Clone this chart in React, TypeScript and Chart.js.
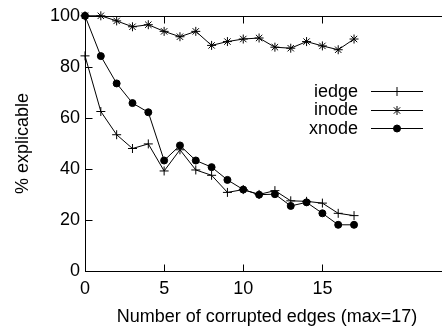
import React, { useEffect, useRef } from 'react';
import { Chart, registerables } from 'chart.js';
import { drawPoint } from 'chart.js/helpers';

Chart.register(...registerables);

const xValues = [0, 1, 2, 3, 4, 5, 6, 7, 8, 9, 10, 11, 12, 13, 14, 15, 16, 17];
const iedge = [84.3, 62.5, 53.4, 48.0, 49.8, 39.2, 47.5, 39.6, 37.5, 30.8, 31.9, 30.0, 31.5, 27.5, 27.3, 26.6, 22.6, 21.7];
const inode = [100, 100, 98.0, 95.7, 96.5, 93.9, 91.8, 93.9, 88.4, 89.9, 90.9, 91.3, 87.7, 87.3, 89.9, 88.2, 86.7, 90.9];
const xnode = [100, 84.2, 73.5, 65.8, 62.2, 43.3, 49.2, 43.3, 40.7, 35.7, 31.9, 29.9, 30.1, 25.5, 26.9, 22.6, 18.1, 18.1];
const seriesNames = ['iedge', 'inode', 'xnode'];
const xTicks = [0, 5, 10, 15];
const yTicks = [0, 20, 40, 60, 80, 100];
const xTitle = 'Number of corrupted edges (max=17)';
const yTitle = '% explicable';

const FONT = '"Liberation Sans", Arial, Helvetica, sans-serif';

const framePlugin = {
  id: 'gnuFrame',
  beforeDatasetsDraw(chart: any) {
    const { ctx, chartArea: a, scales } = chart;
    const x = scales.x, y = scales.y;
    ctx.save();
    ctx.strokeStyle = '#000';
    ctx.lineWidth = 1;
    const L = Math.round(a.left) + 0.5;
    const R = Math.round(a.right) + 0.5;
    const T = Math.round(a.top) + 0.5;
    const B = Math.round(a.bottom) + 0.5;
    ctx.strokeRect(L, T, R - L, B - T);
    ctx.beginPath();
    for (const v of xTicks) {
      const px = Math.round(x.getPixelForValue(v)) + 0.5;
      ctx.moveTo(px, B); ctx.lineTo(px, B - 7);
      ctx.moveTo(px, T); ctx.lineTo(px, T + 7);
    }
    for (const v of yTicks) {
      const py = Math.round(y.getPixelForValue(v)) + 0.5;
      ctx.moveTo(L, py); ctx.lineTo(L + 7, py);
      ctx.moveTo(R, py); ctx.lineTo(R - 7, py);
    }
    ctx.stroke();
    ctx.restore();
  },
};

const legendPlugin = {
  id: 'gnuLegend',
  afterDatasetsDraw(chart: any) {
    const { ctx } = chart;
    ctx.save();
    ctx.font = '18px ' + FONT;
    ctx.textAlign = 'right';
    ctx.textBaseline = 'middle';
    chart.data.datasets.forEach((ds: any, i: number) => {
      const yy = 91 + i * 18.5;
      ctx.fillStyle = '#000';
      ctx.fillText(ds.label, 358, yy + 1);
      ctx.strokeStyle = '#000';
      ctx.lineWidth = 1;
      ctx.beginPath();
      ctx.moveTo(371, Math.round(yy) + 0.5);
      ctx.lineTo(423, Math.round(yy) + 0.5);
      ctx.stroke();
      drawPoint(ctx, { pointStyle: ds.pointStyle, radius: ds.pointRadius, borderWidth: 1, rotation: 0 } as any, 397, Math.round(yy) + 0.5);
    });
    ctx.restore();
  },
};

export default function App() {
  const ref = useRef<HTMLCanvasElement | null>(null);
  useEffect(() => {
    if (!ref.current) return;
    const mk = (vals: number[]) => xValues.map((x, i) => ({ x, y: vals[i] }));
    const base = {
      borderColor: '#000',
      backgroundColor: '#000',
      pointBorderColor: '#000',
      pointBackgroundColor: '#000',
      borderWidth: 1,
      pointBorderWidth: 1,
      tension: 0,
      clip: false as any,
    };
    const chart = new Chart(ref.current, {
      type: 'line',
      data: {
        datasets: [
          { ...base, label: seriesNames[0], data: mk(iedge), pointStyle: 'cross', pointRadius: 4.5 },
          { ...base, label: seriesNames[1], data: mk(inode), pointStyle: 'star', pointRadius: 4.5 },
          { ...base, label: seriesNames[2], data: mk(xnode), pointStyle: 'circle', pointRadius: 3.5 },
        ],
      },
      options: {
        animation: false,
        responsive: false,
        maintainAspectRatio: false,
        layout: { padding: { top: 13, right: 6, left: 0, bottom: 0 } },
        plugins: { legend: { display: false }, tooltip: { enabled: false } },
        scales: {
          x: {
            type: 'linear',
            min: 0,
            max: 23,
            grid: { display: false, drawTicks: false },
            border: { display: false },
            afterBuildTicks: (s: any) => { s.ticks = xTicks.map((v) => ({ value: v })); },
            afterFit: (s: any) => { s.height = 60; },
            ticks: { color: '#000', font: { family: FONT, size: 18 }, padding: 7, maxRotation: 0 },
            title: { display: true, text: xTitle, color: '#000', font: { family: FONT, size: 18 }, padding: { top: 0, bottom: 3 } },
          },
          y: {
            type: 'linear',
            min: 0,
            max: 100,
            grid: { display: false, drawTicks: false },
            border: { display: false },
            afterBuildTicks: (s: any) => { s.ticks = yTicks.map((v) => ({ value: v })); },
            afterFit: (s: any) => { s.width = 85; },
            ticks: { color: '#000', font: { family: FONT, size: 18 }, padding: 5 },
            title: { display: true, text: yTitle, color: '#000', font: { family: FONT, size: 18 }, padding: { top: 12, bottom: 0 } },
          },
        },
      },
      plugins: [framePlugin, legendPlugin],
    });
    return () => chart.destroy();
  }, []);
  return (
    <div style={{ position: 'fixed', left: 0, top: 0, width: 442, height: 331, overflow: 'hidden', background: '#fff' }}>
      <canvas ref={ref} width={455} height={331} style={{ width: 455, height: 331, display: 'block' }} />
    </div>
  );
}
